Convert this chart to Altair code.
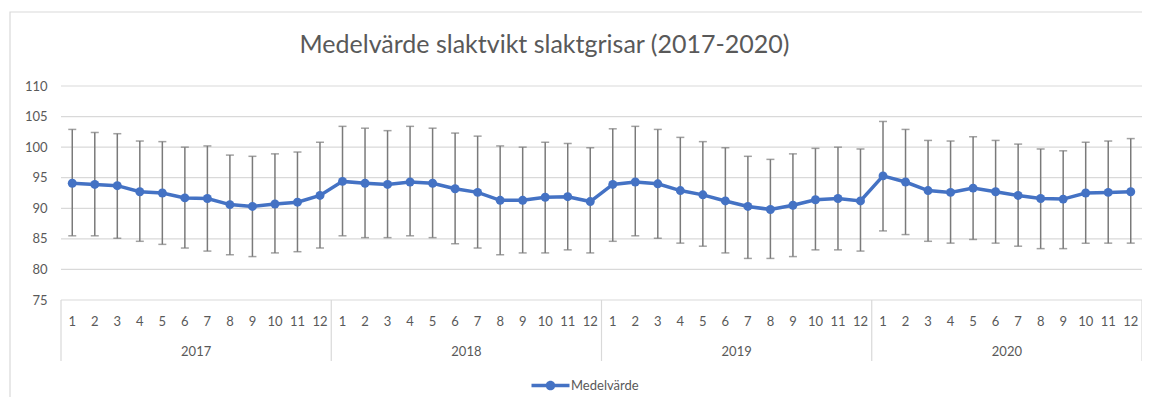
import altair as alt
import pandas as pd

years = ["2017", "2018", "2019", "2020"]
months = [1, 2, 3, 4, 5, 6, 7, 8, 9, 10, 11, 12]
series_name = "Medelvärde"

mean_2017 = [94.1, 93.9, 93.7, 92.7, 92.5, 91.7, 91.6, 90.6, 90.3, 90.7, 91.0, 92.1]
upper_2017 = [102.9, 102.4, 102.2, 101.0, 100.9, 100.0, 100.2, 98.7, 98.5, 98.9, 99.2, 100.8]
lower_2017 = [85.5, 85.5, 85.1, 84.6, 84.1, 83.5, 83.0, 82.4, 82.1, 82.7, 82.9, 83.5]

mean_2018 = [94.4, 94.1, 93.9, 94.3, 94.1, 93.2, 92.6, 91.3, 91.3, 91.8, 91.9, 91.1]
upper_2018 = [103.4, 103.1, 102.7, 103.4, 103.1, 102.3, 101.8, 100.2, 100.0, 100.8, 100.6, 99.9]
lower_2018 = [85.5, 85.2, 85.2, 85.5, 85.2, 84.2, 83.5, 82.4, 82.7, 82.7, 83.2, 82.7]

mean_2019 = [93.9, 94.3, 94.0, 92.9, 92.2, 91.2, 90.3, 89.8, 90.5, 91.4, 91.6, 91.2]
upper_2019 = [103.0, 103.4, 102.9, 101.6, 100.9, 99.9, 98.5, 98.0, 98.9, 99.8, 100.0, 99.7]
lower_2019 = [84.6, 85.5, 85.1, 84.3, 83.8, 82.7, 81.8, 81.8, 82.1, 83.2, 83.2, 83.0]

mean_2020 = [95.3, 94.3, 92.9, 92.6, 93.3, 92.7, 92.1, 91.6, 91.5, 92.5, 92.6, 92.7]
upper_2020 = [104.2, 102.9, 101.1, 101.0, 101.7, 101.1, 100.5, 99.7, 99.4, 100.8, 101.0, 101.4]
lower_2020 = [86.3, 85.7, 84.6, 84.3, 84.9, 84.3, 83.8, 83.4, 83.4, 84.3, 84.3, 84.3]

y_ticks = [75, 80, 85, 90, 95, 100, 105, 110]

means = [mean_2017, mean_2018, mean_2019, mean_2020]
uppers = [upper_2017, upper_2018, upper_2019, upper_2020]
lowers = [lower_2017, lower_2018, lower_2019, lower_2020]

rows = []
for yi, yr in enumerate(years):
    for mi, m in enumerate(months):
        rows.append({
            "idx": yi * len(months) + mi,
            "month": str(m),
            "year": yr,
            "mean": means[yi][mi],
            "upper": uppers[yi][mi],
            "lower": lowers[yi][mi],
            "series": series_name,
        })
df = pd.DataFrame(rows)

n = len(years) * len(months)
yr_df = pd.DataFrame({
    "year": years,
    "center": [yi * len(months) + (len(months) - 1) / 2 for yi in range(len(years))],
})
bound_df = pd.DataFrame({"b": [yi * len(months) - 0.5 for yi in range(len(years) + 1)]})
grid_df = pd.DataFrame({"g": y_ticks})

W, H = 1081, 214
FONT = "Lato"
GREY = "#595959"
BLUE = "#4472C4"
ERR = "#7a7a7a"
GRID = "#d9d9d9"

xscale = alt.Scale(domain=[-0.5, n - 0.5], nice=False, zero=False)
yscale = alt.Scale(domain=[75, 110], nice=False, zero=False)

base = alt.Chart(df).encode(x=alt.X("idx:Q", scale=xscale, axis=None))

# horizontal gridlines + y axis labels
grid = alt.Chart(grid_df).mark_rule(color=GRID, strokeWidth=1.2).encode(
    y=alt.Y("g:Q", scale=yscale,
            axis=alt.Axis(values=y_ticks, title=None, grid=False, domain=False, ticks=False,
                          labelColor=GREY, labelFont=FONT, labelFontSize=13, labelPadding=14,
                          labelOverlap=False, labelBound=False, labelFlush=False)),
    x=alt.value(0), x2=alt.value(W))

err = base.mark_rule(color=ERR, strokeWidth=1.5).encode(
    y=alt.Y("lower:Q", scale=yscale, axis=None), y2="upper:Q")
cap_u = base.mark_tick(orient="horizontal", size=8, thickness=1.5, color=ERR).encode(
    y=alt.Y("upper:Q", scale=yscale, axis=None))
cap_l = base.mark_tick(orient="horizontal", size=8, thickness=1.5, color=ERR).encode(
    y=alt.Y("lower:Q", scale=yscale, axis=None))

line = base.mark_line(color=BLUE, strokeWidth=3.5).encode(
    y=alt.Y("mean:Q", scale=yscale, axis=None))

legend_symbol = ("M-4.75,-0.42H4.75V0.42H-4.75Z "
                 "M-1.2,0A1.2,1.2,0,1,1,1.2,0A1.2,1.2,0,1,1,-1.2,0Z")

pts = base.mark_point(filled=True, size=80, opacity=1).encode(
    y=alt.Y("mean:Q", scale=yscale, axis=None),
    color=alt.Color("series:N", scale=alt.Scale(range=[BLUE]),
                    legend=alt.Legend(title=None, orient="none", legendX=483, legendY=293,
                                      symbolType=legend_symbol, symbolSize=64,
                                      symbolStrokeWidth=0, labelOffset=14,
                                      labelFont=FONT, labelFontSize=13, labelColor=GREY,
                                      padding=0)),
)

seps = alt.Chart(bound_df).mark_rule(color=GRID, strokeWidth=1.2).encode(
    x=alt.X("b:Q", scale=xscale, axis=None),
    y=alt.value(H), y2=alt.value(H + 61))

month_txt = base.mark_text(font=FONT, fontSize=13, color=GREY, baseline="middle").encode(
    text="month:N", y=alt.value(H + 22))

year_txt = alt.Chart(yr_df).mark_text(font=FONT, fontSize=13, color=GREY, baseline="middle").encode(
    x=alt.X("center:Q", scale=xscale, axis=None), text="year:N", y=alt.value(H + 52))

frame = alt.Chart(pd.DataFrame({"k": [0]})).mark_rect(
    fillOpacity=0, stroke=GRID, strokeWidth=1.2).encode(
    x=alt.value(-51), x2=alt.value(W + 300), y=alt.value(-74), y2=alt.value(H + 300))

chart = alt.layer(grid, frame, seps, err, cap_u, cap_l, line, pts, month_txt, year_txt).properties(
    width=W, height=H,
    title=alt.Title("Medelvärde slaktvikt slaktgrisar (2017-2020)", font=FONT, fontSize=25,
                    fontWeight="normal", color=GREY, anchor="middle", dx=-57, offset=0,
                    dy=67, frame="group", baseline="alphabetic"),
    autosize=alt.AutoSizeParams(type="none"),
    padding={"left": 53, "top": 78, "right": 0, "bottom": 97},
).resolve_axis(y="independent").configure_view(stroke=None)

chart.save("out.html", embed_options={"renderer": "svg", "actions": False})
